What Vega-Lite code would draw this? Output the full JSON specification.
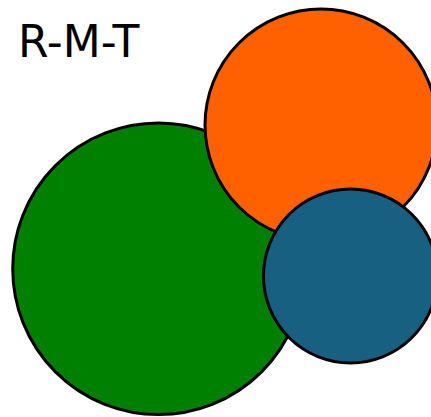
{
  "$schema": "https://vega.github.io/schema/vega-lite/v6.json",
  "width": 431,
  "height": 417,
  "autosize": {"type": "none"},
  "padding": 0,
  "background": "white",
  "config": {"view": {"stroke": null}},
  "layer": [
    {
      "data": {"values": [
        {"set": "R", "cx": 158.5, "cy": 148.25, "value": 85},
        {"set": "M", "cx": 321, "cy": 292, "value": 53.8},
        {"set": "T", "cx": 350.5, "cy": 141, "value": 30.3}
      ]},
      "mark": {"type": "point", "shape": "circle", "filled": true, "opacity": 1, "stroke": "black", "strokeWidth": 3},
      "encoding": {
        "x": {"field": "cx", "type": "quantitative", "scale": {"domain": [0, 431], "nice": false, "zero": false}, "axis": null},
        "y": {"field": "cy", "type": "quantitative", "scale": {"domain": [0, 417], "nice": false, "zero": false}, "axis": null},
        "size": {"field": "value", "type": "quantitative", "scale": {"type": "linear", "domain": [0, 100], "range": [0, 100000], "zero": true}, "legend": null},
        "color": {"field": "set", "type": "nominal", "scale": {"domain": ["R", "M", "T"], "range": ["#008000", "#ff6000", "#186082"]}, "legend": null}
      }
    },
    {
      "data": {"values": [{"label": "R-M-T", "tx": 18, "ty": 360}]},
      "mark": {"type": "text", "align": "left", "baseline": "alphabetic", "font": "DejaVu Sans", "fontSize": 44, "color": "black"},
      "encoding": {
        "x": {"field": "tx", "type": "quantitative"},
        "y": {"field": "ty", "type": "quantitative"},
        "text": {"field": "label"}
      }
    }
  ]
}
